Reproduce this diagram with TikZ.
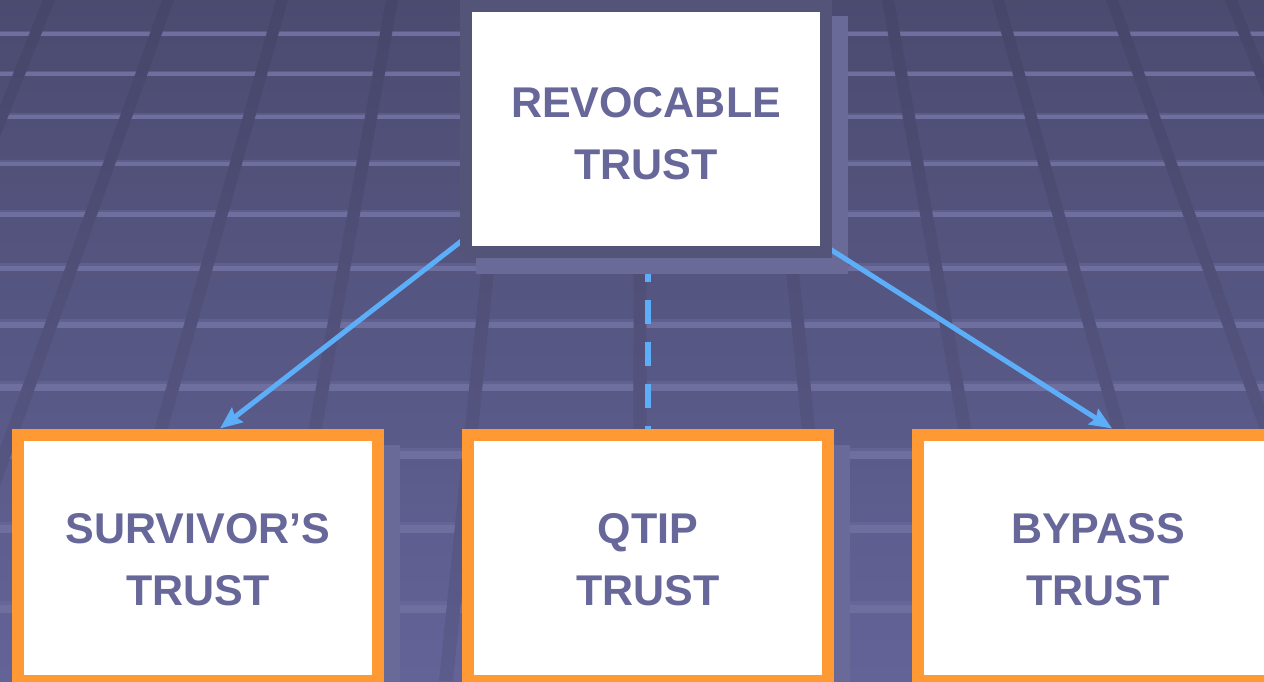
\documentclass[tikz,border=0pt]{standalone}
\usepackage{fontspec}
\setmainfont{Liberation Sans}
\usetikzlibrary{arrows.meta}
\definecolor{bgtop}{HTML}{4B4B70}
\definecolor{bgbot}{HTML}{636398}
\definecolor{dktop}{HTML}{46466A}
\definecolor{dkbot}{HTML}{5C5C8C}
\definecolor{hl}{HTML}{6E6E9F}
\definecolor{framec}{HTML}{545478}
\definecolor{shadowc}{HTML}{6A6A98}
\definecolor{orng}{HTML}{FF9933}
\definecolor{arrowc}{HTML}{5CAEF8}
\definecolor{txt}{HTML}{67679A}
\pgfdeclarelayer{bg}
\pgfdeclarelayer{dashl}
\pgfdeclarelayer{shl}
\pgfdeclarelayer{arl}
\pgfsetlayers{bg,dashl,shl,arl,main}
\begin{document}
\begin{tikzpicture}[x=1pt,y=-1pt,
  box/.style={rectangle, draw=orng, fill=white, line width=12pt, minimum width=360pt, minimum height=246pt, inner sep=0pt, outer sep=0pt},
  topbox/.style={box, draw=framec},
  lbl/.style={font=\fontsize{43pt}{62pt}\selectfont\bfseries, text=txt, align=center, inner sep=0pt},
  conn/.style={draw=arrowc, line width=5pt, -{Stealth[length=22pt,width=18pt,inset=3pt]}},
  dashconn/.style={draw=arrowc, line width=6pt, dash pattern=on 24pt off 18pt, dash phase=36pt}]
\useasboundingbox (0,0) rectangle (1264,681);

% background grid
\begin{pgfonlayer}{bg}
\shade[top color=bgtop, bottom color=bgbot] (0,0) rectangle (1264,681);
\foreach \y/\w in {33/5,73/5,116/6,163/6,213/7,267/8,323/9,386/10,453/11,527/11,607/12}{
  \fill[hl,opacity=.45] (0,\y-\w/2) rectangle (1264,\y+\w/2);
  \fill[hl] (0,\y-\w/6) rectangle (1264,\y+\w/2);
}
\begin{scope}
\clip (634,0) -- (646,0) -- (647,681) -- (633,681) -- cycle
  \foreach \a/\b in {125/194,248/370,358/550,472/717,591/866}{
    (640-\a-6,0) -- (640-\a+6,0) -- (640-\b+7,681) -- (640-\b-7,681) -- cycle
    (640+\a-6,0) -- (640+\a+6,0) -- (640+\b+7,681) -- (640+\b-7,681) -- cycle
  };
\shade[top color=dktop, bottom color=dkbot] (0,0) rectangle (1264,681);
\end{scope}
\end{pgfonlayer}

% boxes
\node[topbox] (top) at (646,129) {};
\node[box] (surv) at (198,557.5) {};
\node[box] (qtip) at (648,557.5) {};
\node[box] (bypass) at (1098,557.5) {};

\node[lbl,yshift=-4.5pt] (ttop) at (top.center) {REVOCABLE\\TRUST};
\node[lbl,yshift=-2.5pt] (tsurv) at (surv.center) {SURVIVOR’S\\TRUST};
\node[lbl,yshift=-2.5pt] (tqtip) at (qtip.center) {QTIP\\TRUST};
\node[lbl,yshift=-2.5pt] (tbypass) at (bypass.center) {BYPASS\\TRUST};

% shadows
\begin{pgfonlayer}{shl}
\foreach \n in {top,surv,qtip,bypass}
  \fill[shadowc] ([shift={(10,10)}]\n.north west) rectangle ([shift={(22,22)}]\n.south east);
\end{pgfonlayer}

% connectors
\begin{pgfonlayer}{dashl}
\draw[dashconn] (top.south -| qtip.north) -- (qtip.north);
\end{pgfonlayer}
\begin{pgfonlayer}{arl}
\draw[conn] ([shift={(2,-16)}]top.south west) -- ([shift={(22,-6)}]surv.north);
\draw[conn] ([shift={(-4,-8)}]top.south east) -- ([shift={(14,-6)}]bypass.north);
\end{pgfonlayer}
\end{tikzpicture}
\end{document}
